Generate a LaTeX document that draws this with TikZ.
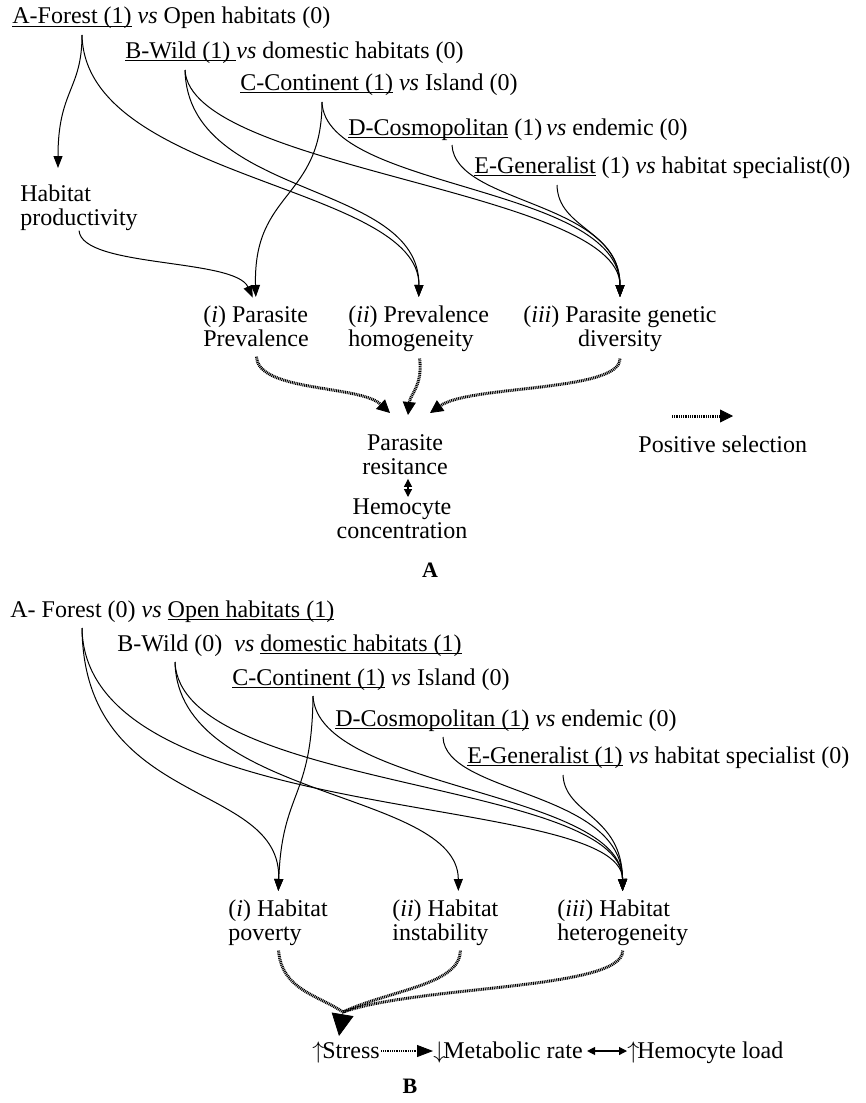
\documentclass[tikz,border=0pt]{standalone}
\usepackage{fontspec}
\setmainfont{Liberation Serif}
\usetikzlibrary{arrows.meta,calc}
\newsavebox{\undlbox}
\newcommand{\undl}[1]{\sbox{\undlbox}{#1}\rlap{\rule[-1.4pt]{\wd\undlbox}{0.45pt}}\usebox{\undlbox}}

\begin{document}
\begin{tikzpicture}[x=0.5pt,y=0.5pt]
  \tikzstyle{every node}+=[inner sep=0pt,font=\fontsize{12}{12}\selectfont]
  \tikzstyle{hdr}=[anchor=base west]
  \tikzstyle{tgt}=[anchor=north west,align=left]
  \tikzstyle{lnk}=[black,line width=0.5pt,shorten >=4pt,-{Triangle[length=6pt,width=4.5pt]}]
  \tikzstyle{sel}=[black,line width=1.5pt,dash pattern=on 0.5pt off 0.4pt,-{Triangle[length=6.5pt,width=6.5pt,line width=0.4pt]}]
  \tikzstyle{selx}=[black,line width=1.5pt,dash pattern=on 0.5pt off 0.4pt]
  \tikzstyle{sel2}=[black,line width=1.1pt,dash pattern=on 0.5pt off 0.4pt,-{Triangle[length=8pt,width=6pt,line width=0.4pt]}]
  \tikzstyle{dbl}=[black,line width=0.6pt,{Triangle[length=4pt,width=4pt]}-{Triangle[length=4pt,width=4pt]}]
  \tikzstyle{lab}=[anchor=base,font=\fontsize{11}{13}\selectfont\bfseries]
  \useasboundingbox (0,0) rectangle (866,-1103);

  \node [hdr] (hA1) at (12,-24) {\undl{A-Forest (1)} \textit{vs} Open habitats (0)};
  \node [hdr] (hB1) at (125,-58) {\undl{B-Wild (1) }\textit{vs} domestic habitats (0)};
  \node [hdr] (hC1) at (240,-90) {\undl{C-Continent (1)} \textit{vs} Island (0)};
  \node [hdr] (hD1) at (348,-135) {\undl{D-Cosmopolitan} (1)\,\textit{vs} endemic (0)};
  \node [hdr] (hE1) at (474,-173) {\undl{E-Generalist} (1) \textit{vs} habitat specialist(0)};
  \coordinate (sA1) at (82,-35);
  \coordinate (sB1) at (185,-70);
  \coordinate (sC1) at (322,-102);
  \coordinate (sD1) at (452,-145);
  \coordinate (sE1) at (557,-185);

  \node [tgt] (prod) at (20,-184) {Habitat\\productivity};
  \node [tgt] (prev) at (203,-305) {(\textit{i}) Parasite\\Prevalence};
  \node [tgt] (homo) at (348,-305) {(\textit{ii}) Prevalence\\homogeneity};
  \node [tgt,anchor=north,align=center] (gdiv) at (620,-305) {(\textit{iii}) Parasite genetic\\diversity};
  \node [anchor=north,align=center] (resi) at (405,-434) {Parasite\\resitance};
  \node [anchor=north,align=center] (hemo) at (402,-498) {Hemocyte\\concentration};

  \draw [lnk,shorten >=8pt] (sA1) .. controls (82,-90) and (58,-90) .. ($(prod.north west)+(38,0)$);
  \draw [lnk] (sA1) .. controls (85,-180) and (420,-185) .. (homo.north);
  \draw [lnk] (sB1) .. controls (188,-200) and (420,-180) .. (homo.north);
  \draw [lnk] (sB1) .. controls (190,-170) and (620,-190) .. (gdiv.north);
  \draw [lnk] (sC1) .. controls (322,-200) and (253,-190) .. (prev.north);
  \draw [lnk] (sC1) .. controls (325,-190) and (620,-185) .. (gdiv.north);
  \draw [lnk] (sD1) .. controls (455,-205) and (620,-200) .. (gdiv.north);
  \draw [lnk] (sE1) .. controls (558,-230) and (620,-230) .. (gdiv.north);
  \draw [lnk] (prod.south) .. controls (82,-268) and (235,-258) .. (prev.north);

  \draw [sel,shorten <=5pt] (prev.south) .. controls (258,-392) and (360,-385) .. ($(resi.north)+(-15,21)$);
  \draw [sel,shorten <=3.5pt] (homo.south) .. controls (423,-385) and (410,-395) .. ($(resi.north)+(3,19)$);
  \draw [sel,shorten <=3.5pt] (gdiv.south) .. controls (620,-392) and (470,-385) .. ($(resi.north)+(25,21)$);
  \draw [dbl,shorten <=2pt,shorten >=0.5pt] ($(resi.south)+(3,0)$) -- ($(resi.south |- hemo.north)+(3,0)$);

  \coordinate (lgA) at (672,-416);
  \coordinate (lgB) at (733,-416);
  \draw [sel] (lgA) -- (lgB);
  \node [anchor=base west] (lgT) at (638,-452) {Positive selection};
  \node [lab] (labA) at (430,-577) {A};

  \node [hdr] (hA2) at (10,-617) {A- Forest (0) \textit{vs} \undl{Open habitats (1)}};
  \node [hdr] (hB2) at (117,-651) {B-Wild (0) \ \textit{vs} \undl{domestic habitats (1)}};
  \node [hdr] (hC2) at (232,-685) {\undl{C-Continent (1)} \textit{vs} Island (0)};
  \node [hdr] (hD2) at (335,-726) {\undl{D-Cosmopolitan (1)} \textit{vs} endemic (0)};
  \node [hdr] (hE2) at (467,-763) {\undl{E-Generalist (1)} \textit{vs} habitat specialist (0)};
  \coordinate (sA2) at (82,-628);
  \coordinate (sB2) at (175,-662);
  \coordinate (sC2) at (313,-696);
  \coordinate (sD2) at (443,-737);
  \coordinate (sE2) at (563,-775);

  \node [tgt] (pov) at (228,-899) {(\textit{i}) Habitat\\poverty};
  \node [tgt] (inst) at (392,-899) {(\textit{ii}) Habitat\\instability};
  \node [tgt] (hetr) at (557,-899) {(\textit{iii}) Habitat\\heterogeneity};

  \draw [lnk] (sA2) .. controls (84,-810) and (282,-780) .. (pov.north);
  \draw [lnk] (sA2) .. controls (85,-830) and (622,-790) .. (hetr.north);
  \draw [lnk] (sB2) .. controls (178,-800) and (458,-790) .. ($(inst.north)+(13,0)$);
  \draw [lnk] (sB2) .. controls (180,-790) and (622,-780) .. (hetr.north);
  \draw [lnk] (sC2) .. controls (312,-800) and (282,-790) .. (pov.north);
  \draw [lnk] (sC2) .. controls (318,-790) and (622,-790) .. (hetr.north);
  \draw [lnk] (sD2) .. controls (445,-795) and (622,-790) .. (hetr.north);
  \draw [lnk] (sE2) .. controls (565,-815) and (622,-815) .. (hetr.north);

  \node [anchor=base west] (stre) at (312,-1058) {$\uparrow$\kern-1pt Stress};
  \node [anchor=base west] (meta) at (433,-1058) {$\downarrow$\kern-1pt Metabolic rate};
  \node [anchor=base west] (hload) at (627,-1058) {$\uparrow$\kern-1pt Hemocyte load};
  \coordinate (conv) at (343,-1012);
  \coordinate (tipS) at (339,-1036);
  \draw [selx,shorten <=2.5pt] (pov.south) .. controls (282,-990) and (318,-995) .. (conv);
  \draw [selx,shorten <=2.5pt] ($(inst.south)+(15,0)$) .. controls (460,-985) and (390,-990) .. (conv);
  \draw [selx,shorten <=2.5pt] (hetr.south) .. controls (623,-990) and (420,-985) .. (conv);
  \draw [black,-{Triangle[length=11pt,width=11pt]}] (conv) -- (tipS);
  \draw [sel2] ($(stre.base east)+(1,7)$) -- ($(meta.base west)+(0,7)$);
  \draw [dbl] ($(meta.base east)+(4,7)$) -- ($(hload.base west)+(0,7)$);
  \node [lab] (labB) at (410,-1093) {B};
\end{tikzpicture}
\end{document}
